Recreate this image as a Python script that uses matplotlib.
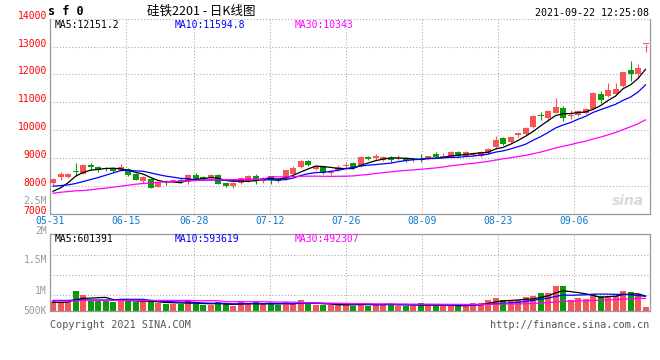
import numpy as np
import pandas as pd
import matplotlib
matplotlib.use('Agg')
import matplotlib.pyplot as plt

# daily K-line, 2021-05-31 .. 2021-09-22
opens = [8080, 8300, 8330, 8530, 8435, 8757, 8662, 8640, 8625, 8554,
         8600, 8420, 8184, 8240, 7957, 8160, 8160, 8195, 8136, 8400,
         8315, 8303, 8400, 8088, 8004, 8088, 8160, 8340, 8160, 8340,
         8231, 8243, 8435, 8662, 8900, 8602, 8698, 8460, 8579, 8699,
         8806, 8699, 9045, 9009, 8938, 9009, 8974, 9009, 8938, 8974,
         8962, 9153, 9009, 9045, 9225, 9081, 9105, 9069, 9177, 9380,
         9726, 9571, 9810, 9870, 10109, 10539, 10444, 10623, 10802, 10491,
         10539, 10599, 10743, 11304, 11232, 11304, 11567, 12152, 12033, 13090]
highs = [8260, 8480, 8440, 8815, 8770, 8805, 8700, 8660, 8660, 8770,
         8640, 8440, 8340, 8260, 8150, 8195, 8240, 8280, 8435, 8460,
         8360, 8435, 8410, 8110, 8124, 8315, 8370, 8420, 8300, 8363,
         8267, 8578, 8698, 8937, 8937, 8757, 8720, 8554, 8747, 8854,
         8842, 9057, 9057, 9153, 9081, 9081, 9105, 9033, 9009, 9141,
         9081, 9213, 9177, 9237, 9261, 9237, 9201, 9237, 9356, 9798,
         9750, 9762, 9942, 10109, 10527, 10659, 10707, 11160, 10874, 10730,
         10730, 10790, 11352, 11388, 11686, 11686, 12105, 12487, 12379, 13090]
lows = [8030, 8200, 8280, 8365, 8430, 8580, 8506, 8520, 8480, 8530,
        8340, 8190, 8100, 7900, 7940, 8015, 8125, 8080, 8065, 8220,
        8220, 8240, 8060, 7945, 7910, 8064, 8140, 8064, 8088, 8076,
        8148, 8220, 8410, 8638, 8720, 8554, 8435, 8400, 8519, 8627,
        8603, 8675, 8914, 8938, 8902, 8842, 8938, 8842, 8854, 8842,
        8938, 8986, 8986, 8998, 9033, 9057, 9057, 9033, 9141, 9344,
        9464, 9535, 9750, 9822, 10073, 10348, 10336, 10599, 10312, 10396,
        10492, 10563, 10718, 10957, 11173, 11268, 11555, 11746, 11889, 12820]
closes = [8250, 8435, 8435, 8495, 8757, 8662, 8578, 8600, 8540, 8662,
          8400, 8195, 8303, 7920, 8136, 8125, 8195, 8160, 8400, 8255,
          8245, 8400, 8064, 7980, 8100, 8280, 8363, 8160, 8291, 8200,
          8172, 8554, 8638, 8877, 8757, 8698, 8460, 8507, 8663, 8758,
          8687, 9021, 8950, 9069, 9045, 8914, 9009, 8890, 8974, 8926,
          9069, 9033, 9081, 9225, 9057, 9225, 9165, 9225, 9332, 9655,
          9499, 9738, 9906, 10085, 10503, 10503, 10671, 10838, 10420, 10527,
          10695, 10766, 11316, 11089, 11447, 11483, 12093, 12009, 12236, 13090]
volume = [396000, 339000, 339000, 804000, 641000, 437000, 437000, 396000, 367000, 477000,
          408000, 339000, 339000, 396000, 326000, 286000, 286000, 286000, 379000, 286000,
          233000, 233000, 339000, 286000, 175000, 339000, 286000, 355000, 257000, 286000,
          233000, 355000, 286000, 437000, 257000, 233000, 233000, 233000, 257000, 257000,
          204000, 314000, 192000, 273000, 273000, 273000, 204000, 204000, 204000, 314000,
          216000, 204000, 204000, 204000, 204000, 204000, 314000, 314000, 437000, 518000,
          437000, 379000, 420000, 571000, 600000, 722000, 722000, 1008000, 1008000, 437000,
          518000, 477000, 681000, 600000, 600000, 600000, 804000, 763000, 681000, 151000]

# moving averages before enough days are on the chart
ma5_head = [7800, 7922, 8101, 8338]
ma10_head = [7981, 8004, 8029, 8077, 8148, 8220, 8291, 8374, 8458]
ma30_head = [7728, 7764, 7789, 7814, 7826, 7850, 7886, 7910, 7946, 7981,
             8017, 8053, 8077, 8101, 8125, 8137, 8148, 8160, 8172, 8184,
             8196, 8202, 8208, 8212, 8216, 8220, 8224, 8228, 8234]
vma5_head = [339000, 339000, 355000, 449000]
vma10_head = [420000, 420000, 420000, 437000, 437000, 437000, 437000, 437000, 437000]
vma30_head = [396000, 396000, 396000, 396000, 420000, 420000, 420000, 420000, 420000, 420000,
              420000, 420000, 420000, 420000, 420000, 420000, 420000, 420000, 420000, 408000,
              408000, 408000, 408000, 367000, 367000, 367000, 367000, 367000, 367000]

date_labels = ['05-31', '06-15', '06-28', '07-12', '07-26', '08-09', '08-23', '09-06']
date_idx = [0, 10, 19, 29, 39, 49, 59, 69]
price_ticks = [14000, 13000, 12000, 11000, 10000, 9000, 8000, 7000]
vol_labels = ['2M', '1.5M', '1M', '500K']

RED = '#f65656'
GREEN = '#0a9a0a'
GRID = '#a8a8a8'
FRAME = '#999999'
MONO = 'DejaVu Sans Mono'
W, H = 660, 360


def moving(values, n, head):
  out = pd.Series(values, dtype=float).rolling(n).mean().to_numpy()
  out[:len(head)] = head
  return out


def box(x0, y0, x1, y1):
  return [x0 / W, 1 - y1 / H, (x1 - x0) / W, (y1 - y0) / H]


def ftext(px, py, s, **kw):
  kw.setdefault('family', MONO)
  kw.setdefault('fontsize', 7)
  kw.setdefault('va', 'center')
  fig.text(px / W, 1 - py / H, s, **kw)


if __name__ == '__main__':

  o = np.array(opens, float)
  c = np.array(closes, float)
  x = np.arange(len(c))
  col = np.where(c >= o, RED, GREEN)

  fig = plt.figure(figsize=(W / 100, H / 100), dpi=100)
  ax = fig.add_axes(box(50, 18.8, 650, 213.5))
  axv = fig.add_axes(box(50, 234.3, 650, 310.7))

  # grid columns sit at 600/79 px steps, candles at 7.5 px steps
  gx = np.array(date_idx) * 600 / 79 / 7.5 - 0.4

  for a in (ax, axv):
    a.set_xlim(-0.4, 79.6)
    a.set_xticks([])
    a.set_yticks([])
    for s in ('left', 'right', 'bottom', 'top'):
      a.spines[s].set_color(FRAME)
      a.spines[s].set_linewidth(0.9)
    for g in gx[1:]:
      a.axvline(g, color=GRID, lw=0.75, ls=(0, (1, 2)), zorder=0)

  # price panel
  ax.set_ylim(7000, 14000)
  ax.spines['top'].set_visible(False)
  for v in price_ticks[:-1]:
    ax.axhline(v, color=GRID, lw=0.75, ls=(0, (1, 2)), zorder=0, clip_on=False)

  ax.vlines(x, lows, highs, colors=col, lw=0.8, zorder=2)
  body = np.maximum(np.abs(c - o), 28)
  ax.bar(x, body, bottom=np.minimum(o, c), width=0.8, color=col, lw=0, zorder=3)

  ax.plot(x, moving(closes, 5, ma5_head), color='black', lw=0.9, zorder=4)
  ax.plot(x, moving(closes, 10, ma10_head), color='#0000ff', lw=0.9, zorder=4)
  ax.plot(x, moving(closes, 30, ma30_head), color='#ff00ff', lw=0.9, zorder=4)

  # volume panel
  vtop = 76.4 * 40800
  axv.set_ylim(0, vtop)
  for f in (0.27, 0.53, 0.79):
    axv.axhline(vtop * (1 - f), color=GRID, lw=0.75, ls=(0, (1, 2)), zorder=0)
  axv.bar(x, volume, width=0.8, color=col, lw=0, zorder=2)
  axv.plot(x, moving(volume, 5, vma5_head), color='black', lw=0.9, zorder=3)
  axv.plot(x, moving(volume, 10, vma10_head), color='#0000ff', lw=0.9, zorder=3)
  axv.plot(x, moving(volume, 30, vma30_head), color='#ff00ff', lw=0.9, zorder=3)

  # axis texts
  pix_per_k = 194.7 / 7
  for v in price_ticks:
    ftext(47, 18.8 + (14000 - v) / 1000 * pix_per_k - 3, str(v), color='red', ha='right')
  ftext(47, 201, '2.5M', color='#999999', ha='right')
  for lab, py in zip(vol_labels, (231, 260, 291, 311)):
    ftext(47, py, lab, color='#999999', ha='right')
  for lab, g in zip(date_labels, gx):
    ftext(50 + (g + 0.4) * 7.5, 221.5, lab, color='#0a78cc', ha='center')

  # header and legends
  ftext(48, 11.5, 's f 0', fontweight='bold', fontsize=8.5, ha='left')
  ftext(201, 11.5, '硅铁2201 - 日K线图', family=['Noto Sans CJK SC', 'DejaVu Sans'],
        fontsize=9, ha='center')
  ftext(649, 12.5, '2021-09-22 12:25:08', ha='right', fontsize=7.2)
  ftext(55, 24.5, 'MA5:12151.2', color='black')
  ftext(175, 24.5, 'MA10:11594.8', color='#0000ff')
  ftext(295, 24.5, 'MA30:10343', color='#ff00ff')
  ftext(55, 239.5, 'MA5:601391', color='black')
  ftext(175, 239.5, 'MA10:593619', color='#0000ff')
  ftext(295, 239.5, 'MA30:492307', color='#ff00ff')
  ftext(50, 324.5, 'Copyright 2021 SINA.COM', color='#555555', fontsize=7.3)
  ftext(649, 324.5, 'http://finance.sina.com.cn', color='#555555', ha='right', fontsize=7.3)

  # faint sina watermark
  ftext(628, 201, 'sina', family='DejaVu Sans', fontsize=10, fontweight='bold',
        style='italic', color='#d8d8d8', ha='center')

  fig.savefig('out.png', dpi=100)
